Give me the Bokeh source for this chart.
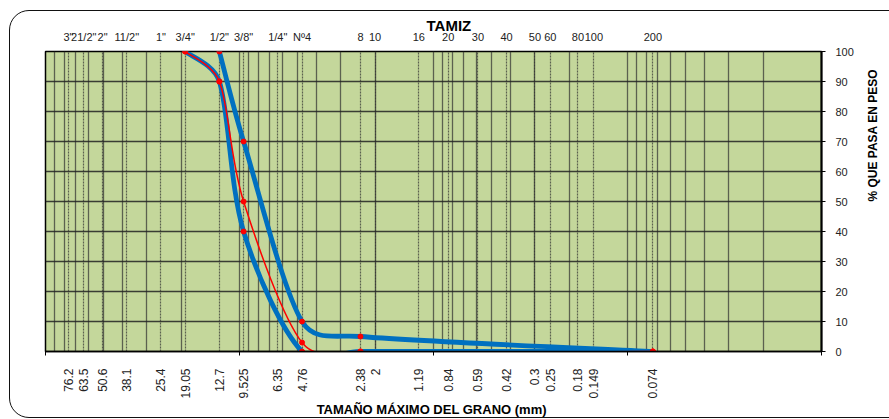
import math
from bokeh.plotting import figure
from bokeh.models import Range1d, FixedTicker, LogAxis, Grid, InlineStyleSheet
from bokeh.embed import file_html
from bokeh.resources import INLINE

# ---------------- data ----------------
SIEVE_MM = [76.2, 63.5, 50.8, 38.1, 25.4, 19.05, 12.7, 9.525, 6.35, 4.76, 2.38, 2.0,
            1.19, 0.84, 0.59, 0.42, 0.3, 0.25, 0.18, 0.149, 0.074]
MM_LABELS = ["76.2", "63.5", "50.6", "38.1", "25.4", "19.05", "12.7", "9.525", "6.35", "4.76",
             "2.38", "2", "1.19", "0.84", "0.59", "0.42", "0.3", "0.25", "0.18", "0.149", "0.074"]
TAMIZ_LABELS = ['3"', '21/2"', '2"', '11/2"', '1"', '3/4"', '1/2"', '3/8"', '1/4"', 'Nº4',
                '8', '10', '16', '20', '30', '40', '50', '60', '80', '100', '200']
Y_TICKS = [0, 10, 20, 30, 40, 50, 60, 70, 80, 90, 100]
DECADES = [100, 10, 1, 0.1, 0.01]

GRAD_MM = [19.05, 12.7, 9.525, 4.76, 2.38, 0.074]
LOWER = [100, 90, 40, 0, 0, 0]
SAMPLE = [100, 90, 50, 3, 0, 0]
UPPER_MM = [12.7, 9.525, 4.76, 2.38, 0.074]
UPPER = [100, 70, 10, 5, 0]

LOG_GRID = [100] + [k * d for d in [10, 1, 0.1, 0.01] for k in range(9, 0, -1)]

FONT = "Liberation Sans"
TXT = "#222222"

W, H = 889, 419
FL, FR, FT, FB = 45, 822, 51, 351   # frame edges in px
SX = (FR - FL) / 4.0                # px per decade
SY = (FB - FT) / 100.0              # px per percent


def smooth(xs, ys, f=1 / 6, cap=0.4):
    """Bezier segments of a smoothed (spreadsheet-like) line, computed in screen proportions."""
    P = [(math.log10(x) * SX, y * SY) for x, y in zip(xs, ys)]
    n = len(P)

    def ctrl(a, b, seg):
        vx = (P[b][0] - P[a][0]) * f
        vy = (P[b][1] - P[a][1]) * f
        L = math.hypot(vx, vy)
        if L > cap * seg and L > 0:
            s = cap * seg / L
            vx, vy = vx * s, vy * s
        return vx, vy

    out = dict(x0=[], y0=[], x1=[], y1=[], cx0=[], cy0=[], cx1=[], cy1=[])
    for i in range(n - 1):
        seg = math.hypot(P[i + 1][0] - P[i][0], P[i + 1][1] - P[i][1])
        v1 = ctrl(max(i - 1, 0), i + 1, seg)
        v2 = ctrl(i, min(i + 2, n - 1), seg)
        c1 = (P[i][0] + v1[0], P[i][1] + v1[1])
        c2 = (P[i + 1][0] - v2[0], P[i + 1][1] - v2[1])
        out["x0"].append(xs[i]); out["y0"].append(ys[i])
        out["x1"].append(xs[i + 1]); out["y1"].append(ys[i + 1])
        out["cx0"].append(10 ** (c1[0] / SX)); out["cy0"].append(c1[1] / SY)
        out["cx1"].append(10 ** (c2[0] / SX)); out["cy1"].append(c2[1] / SY)
    return out


p = figure(width=W, height=H, x_axis_type="log",
           x_range=Range1d(100, 0.01), y_range=Range1d(0, 100),
           y_axis_location="right", output_backend="svg", toolbar_location=None,
           min_border_left=FL, min_border_right=W - FR,
           min_border_top=FT, min_border_bottom=H - FB)
p.background_fill_color = "#c4d79b"
p.border_fill_color = "white"
p.outline_line_color = "black"
p.outline_line_width = 1.5

# title "TAMIZ"
p.title.text = "TAMIZ"
p.title.align = "left"
p.title.offset = 381
p.title.standoff = -13
p.title.text_font = FONT
p.title.text_font_size = "15px"
p.title.text_font_style = "bold"
p.title.text_color = "black"

# grids
p.xgrid.ticker = FixedTicker(ticks=LOG_GRID)
p.xgrid.grid_line_color = "#2f2f2f"
p.xgrid.grid_line_alpha = 0.7
p.xgrid.grid_line_width = 1.3
p.ygrid.ticker = FixedTicker(ticks=Y_TICKS)
p.ygrid.grid_line_color = "#222222"
p.ygrid.grid_line_alpha = 0.85
p.ygrid.grid_line_width = 1.6
p.add_layout(Grid(dimension=0, ticker=FixedTicker(ticks=SIEVE_MM),
                  grid_line_color="#2f2f2f", grid_line_alpha=0.7,
                  grid_line_width=1.2, grid_line_dash="2 1"))

# bottom axis (mm)
xa = p.xaxis[0]
xa.ticker = FixedTicker(ticks=SIEVE_MM, minor_ticks=DECADES)
xa.major_label_overrides = {v: s for v, s in zip(SIEVE_MM, MM_LABELS)}
xa.major_label_orientation = math.pi / 2
xa.major_tick_out = 0
xa.major_tick_in = 0
xa.minor_tick_out = 4
xa.minor_tick_in = 0
xa.minor_tick_line_color = "black"
xa.axis_line_color = "black"
xa.axis_line_width = 1.5
xa.major_label_standoff = 13
xa.major_label_text_font = FONT
xa.major_label_text_font_size = "12px"
xa.major_label_text_color = TXT
xa.axis_label = "TAMAÑO MÁXIMO DEL GRANO  (mm)"
xa.axis_label_standoff = 0
xa.axis_label_text_font = FONT
xa.axis_label_text_font_size = "13px"
xa.axis_label_text_font_style = "bold"
xa.axis_label_text_color = "black"

# top axis (tamiz)
ta = LogAxis(ticker=FixedTicker(ticks=SIEVE_MM, minor_ticks=[]),
             major_label_overrides={v: s for v, s in zip(SIEVE_MM, TAMIZ_LABELS)},
             major_tick_out=0, major_tick_in=0, minor_tick_out=0, minor_tick_in=0,
             axis_line_color=None, major_label_standoff=9,
             major_label_text_font=FONT, major_label_text_font_size="11px",
             major_label_text_color=TXT)
p.add_layout(ta, "above")

# right axis (%)
ya = p.yaxis[0]
ya.ticker = FixedTicker(ticks=Y_TICKS, minor_ticks=[])
ya.major_tick_out = 4
ya.major_tick_in = 0
ya.major_tick_line_color = "black"
ya.axis_line_color = "black"
ya.axis_line_width = 2
ya.major_label_standoff = 10
ya.major_label_text_font = FONT
ya.major_label_text_font_size = "11px"
ya.major_label_text_color = TXT
ya.axis_label = "% QUE PASA EN PESO"
ya.axis_label_orientation = math.pi / 2
ya.axis_label_standoff = 16
ya.axis_label_text_baseline = "bottom"
ya.axis_label_text_font = FONT
ya.axis_label_text_font_size = "12px"
ya.axis_label_text_font_style = "bold"
ya.axis_label_text_color = "black"

# curves
for xs, ys in [(GRAD_MM, LOWER), (UPPER_MM, UPPER)]:
    p.bezier(source=smooth(xs, ys), x0="x0", y0="y0", x1="x1", y1="y1",
             cx0="cx0", cy0="cy0", cx1="cx1", cy1="cy1",
             line_color="#0070c0", line_width=4.8, line_cap="round")
p.bezier(source=smooth(GRAD_MM, SAMPLE), x0="x0", y0="y0", x1="x1", y1="y1",
         cx0="cx0", cy0="cy0", cx1="cx1", cy1="cy1",
         line_color="#ff0000", line_width=1.5)
for xs, ys in [(GRAD_MM, LOWER), (UPPER_MM, UPPER), (GRAD_MM, SAMPLE)]:
    p.scatter(xs, ys, size=5, color="#ff0000", line_color="#ff0000")

# rounded outer border of the sheet
p.stylesheets = [InlineStyleSheet(css=(
    ":host { overflow: hidden; }\n"
    ":host::after { content: ''; position: absolute; left: 9px; top: 10px; "
    "width: 900px; height: 408px; border: 1.5px solid #111; border-radius: 20px; "
    "pointer-events: none; box-sizing: border-box; }"))]

open("out.html", "w").write(file_html(p, INLINE))
